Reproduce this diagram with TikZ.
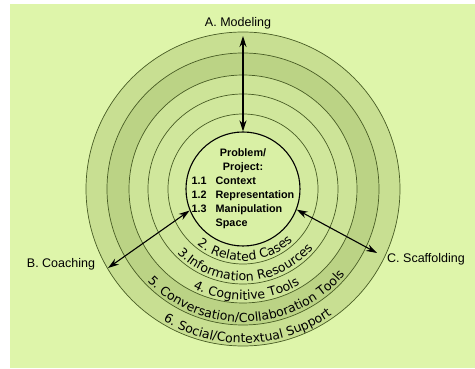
\documentclass[tikz,border=0pt]{standalone}
\usepackage{fontspec}
\setmainfont{Liberation Sans}
\newfontfamily\ringfont{DejaVu Sans}
\usetikzlibrary{arrows.meta,decorations.text}

\definecolor{paper}{RGB}{222,245,170}
\definecolor{ringsix}{RGB}{200,223,146}
\definecolor{ringfive}{RGB}{187,211,133}
\definecolor{ringfour}{RGB}{205,228,152}
\definecolor{ringthree}{RGB}{208,231,156}
\definecolor{ringtwo}{RGB}{211,234,159}
\definecolor{corefill}{RGB}{217,240,165}
\definecolor{rim}{RGB}{72,92,36}

\newcommand\bandfont{\ringfont\fontsize{12.5}{15}\selectfont}

\begin{document}
\begin{tikzpicture}
  [x=1pt,y=1pt,
   ring/.style={draw=rim,line width=0.7pt},
   ringtext/.style={decorate,decoration={text along path,text align=center,text={|\bandfont|#1}}},
   twoway/.style={{Stealth[length=11pt,width=7pt]}-{Stealth[length=11pt,width=7pt]},line width=1.1pt},
   every node/.style={font=\fontsize{12.5}{15}\selectfont}]

  \fill[white] (-243,189) rectangle (232,-180);
  \fill[paper] (-233,185) rectangle (232,-179);
  \useasboundingbox (-243,189) rectangle (232,-180);

  \filldraw[ring,fill=ringsix] (0,0) circle (157);
  \filldraw[ring,fill=ringfive] (0,0) circle (136);
  \filldraw[ring,fill=ringfour] (0,0) circle (114);
  \filldraw[ring,fill=ringthree] (0,0) circle (95);
  \filldraw[ring,fill=ringtwo] (0,0) circle (75);
  \node[draw,circle,line width=1.1pt,fill=corefill,minimum size=114pt,inner sep=0pt] (core) at (0,0) {};

  \path[ringtext={2. Related Cases}] (182:72) arc[start angle=182,end angle=362,radius=72];
  \path[ringtext={3.Information Resources}] (182:92) arc[start angle=182,end angle=362,radius=92];
  \path[ringtext={4. Cognitive Tools}] (182:111) arc[start angle=182,end angle=362,radius=111];
  \path[ringtext={5. Conversation/Collaboration Tools}] (182:133) arc[start angle=182,end angle=362,radius=133];
  \path[ringtext={6. Social/Contextual Support}] (182:154) arc[start angle=182,end angle=362,radius=154];

  \node[font=\bfseries\fontsize{10.8}{14}\selectfont] (brief) at (0,0)
    {\begin{tabular}{@{}l@{\hspace{9pt}}l@{}}
      \multicolumn{2}{c}{Problem/}\\
      \multicolumn{2}{c}{Project:}\\
      1.1 & Context\\
      1.2 & Representation\\
      1.3 & Manipulation\\
          & Space
    \end{tabular}};

  \node[anchor=base] (modeling) at (-5,162) {A. Modeling};
  \node[anchor=base] (coaching) at (-182,-79) {B. Coaching};
  \node[anchor=base] (scaffolding) at (183,-74) {C. Scaffolding};

  \coordinate (mtip) at (0,153);
  \coordinate (ctip) at (-135,-79);
  \coordinate (stip) at (134,-64);

  \draw[twoway] (mtip) -- (core.north);
  \draw[twoway] (ctip) -- (core.202);
  \draw[twoway] (stip) -- (core.-21);
\end{tikzpicture}
\end{document}
